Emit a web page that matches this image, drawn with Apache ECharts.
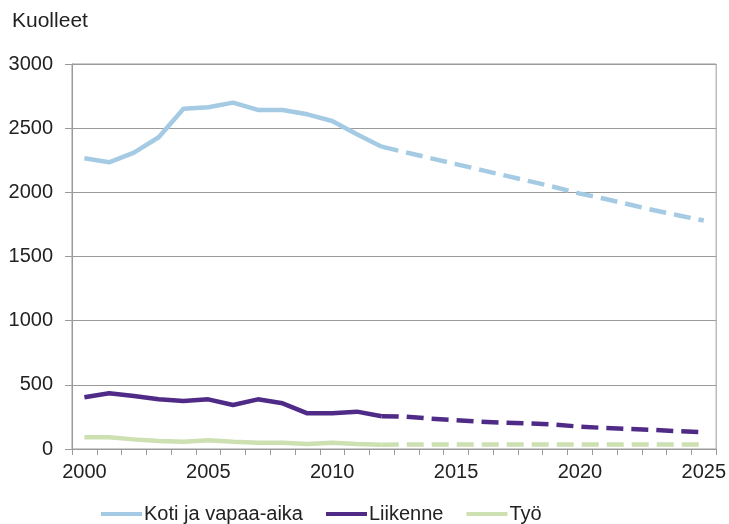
<!DOCTYPE html>
<html><head><meta charset="utf-8">
<script src="https://cdn.jsdelivr.net/npm/echarts@6/dist/echarts.min.js"></script>
<style>html,body{margin:0;padding:0;background:#fff}#c{width:729px;height:524px}</style>
</head><body><div id="c"></div>
<script>
const years = ['2000','2001','2002','2003','2004','2005','2006','2007','2008','2009','2010','2011','2012','2013','2014','2015','2016','2017','2018','2019','2020','2021','2022','2023','2024','2025'];
const kotiActual = [2265,2234,2310,2429,2652,2663,2699,2642,2642,2608,2556,2452,2356];
const kotiForecast = [2356,2310,2265,2220,2175,2130,2085,2040,1990,1950,1905,1860,1820,1780];
const liikenneActual = [403,434,413,387,374,387,343,387,356,278,278,291,255];
const liikenneForecast = [255,252,236,224,213,205,200,190,174,164,156,148,138,132];
const tyoActual = [91,91,75,62,57,68,57,49,49,39,49,39,34];
const tyoForecast = [34,35,35,35,35,35,35,35,35,35,35,35,35,35];
const names = ['Koti ja vapaa-aika','Liikenne','Työ'];
const colors = ['#a4cbe3','#4f2b87','#cde0b2'];

function pad(actual){ return actual.concat(new Array(years.length-actual.length).fill(null)); }
function padF(fc){ return new Array(years.length-fc.length).fill(null).concat(fc); }

const font = 'Liberation Sans, Arial, sans-serif';
const chart = echarts.init(document.getElementById('c'));
const series = [];
[[kotiActual,kotiForecast],[liikenneActual,liikenneForecast],[tyoActual,tyoForecast]].forEach((p,i)=>{
  series.push({name:names[i],type:'line',data:pad(p[0]),symbol:'none',smooth:false,
    lineStyle:{color:colors[i],width:4.5},itemStyle:{color:colors[i]},z:3-i});
  series.push({name:names[i]+' ennuste',type:'line',data:padF(p[1]),symbol:'none',
    lineStyle:{color:colors[i],width:4.5,type:[17,8]},itemStyle:{color:colors[i]},z:3-i});
});
chart.setOption({
  animation:false,
  title:{text:'Kuolleet',left:7,top:6,textStyle:{fontFamily:font,fontSize:21,fontWeight:'normal',color:'#222'}},
  grid:{left:72,right:11,top:64,bottom:75,show:true,borderColor:'#9a9a9a',borderWidth:1},
  legend:{data:names,top:504,left:101,padding:0,icon:'rect',itemWidth:41,itemHeight:4,itemGap:23,
    textStyle:{fontFamily:font,fontSize:20,color:'#222',padding:[0,0,0,-3]}},
  xAxis:{type:'category',data:years,boundaryGap:true,
    axisLine:{lineStyle:{color:'#9a9a9a',width:1}},
    axisTick:{show:true,interval:0,length:6,inside:false,lineStyle:{color:'#9a9a9a'}},
    axisLabel:{interval:4,margin:13,fontFamily:font,fontSize:20,color:'#222'},
    splitLine:{show:false}},
  yAxis:{type:'value',min:0,max:3000,interval:500,
    axisLine:{show:true,lineStyle:{color:'#9a9a9a',width:1}},
    axisTick:{show:true,length:7,lineStyle:{color:'#9a9a9a'}},
    axisLabel:{margin:19,fontFamily:font,fontSize:20,color:'#222',formatter:v=>String(v)},
    splitLine:{show:true,lineStyle:{color:'#9a9a9a',width:1}}},
  series:series
});
</script></body></html>
